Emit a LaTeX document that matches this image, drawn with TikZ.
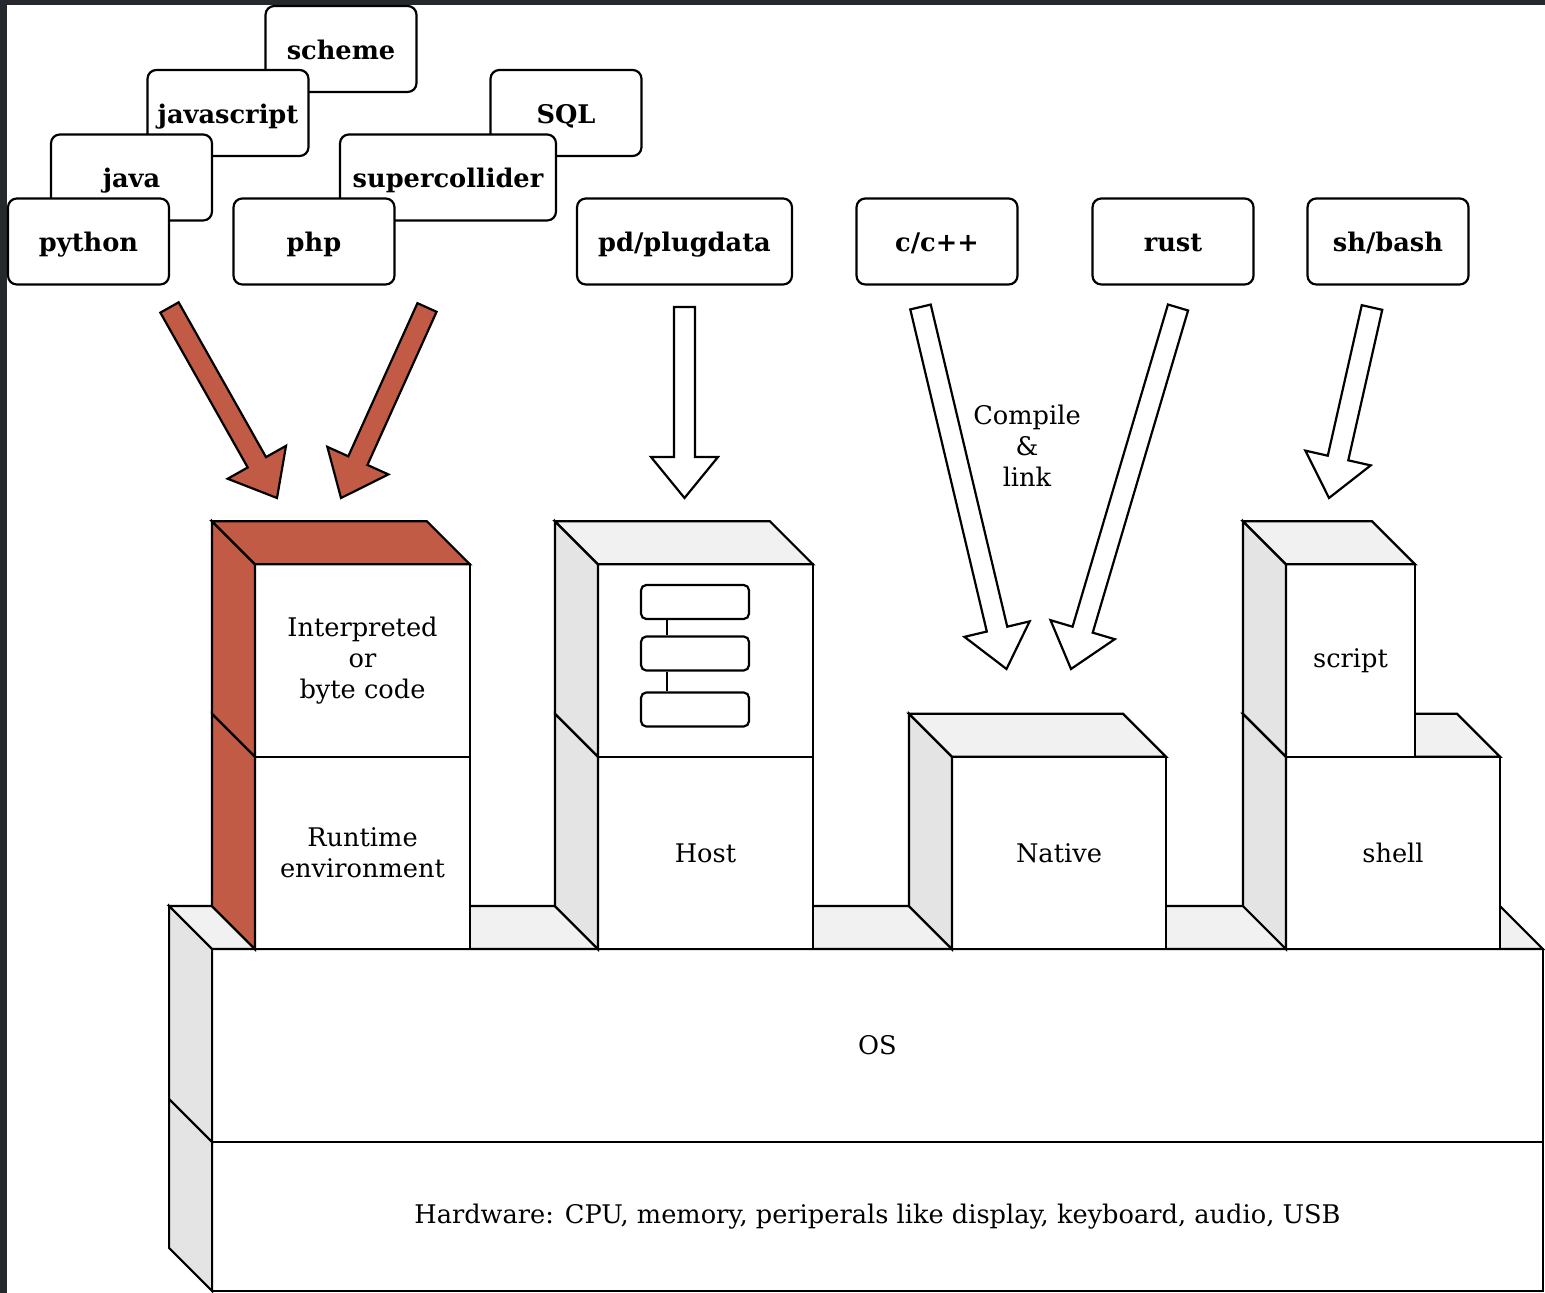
\documentclass[tikz,border=0pt]{standalone}
\usepackage{fontspec}
\setmainfont{DejaVu Serif}
\usetikzlibrary{%
	calc,%
	positioning%
}

\definecolor{brick}{HTML}{C25B45}
\definecolor{topgray}{HTML}{F1F1F1}
\definecolor{sidegray}{HTML}{E4E4E4}
\definecolor{frame}{HTML}{25282C}

\tikzset{
	lang/.style={draw, fill=white, rounded corners=5pt, minimum width=3.22cm, minimum height=1.72cm, text height=15.2pt, text depth=3.5pt, font=\bfseries\fontsize{14.6}{17.6}\selectfont},
	front/.style={draw, fill=white, outer sep=0pt, minimum width=4.3cm, minimum height=3.85cm, align=center, font=\fontsize{14.6}{17.6}\selectfont},
	block/.style={draw, fill=white, rounded corners=3pt, minimum width=2.16cm, minimum height=0.68cm}
}

% side and top faces of a box, drawn from its front node
\newcommand{\cubeside}[2]{%
	\draw[fill=#2] (#1.north west) -- ++(-43,-43) -- ($(#1.south west)+(-43,-43)$) -- (#1.south west) -- cycle;
}
\newcommand{\cubetop}[2]{%
	\draw[fill=#2] (#1.north west) -- ++(-43,-43) -- ($(#1.north east)+(-43,-43)$) -- (#1.north east) -- cycle;
}
% block arrow from tail #1 to tip #2
\newcommand{\fatarrow}[3]{%
	\coordinate (hb) at ($(#2)!0.82cm!(#1)$);
	\draw[fill=#3, line join=miter] ($(#1)!0.21cm!90:(#2)$) -- ($(hb)!0.21cm!90:(#2)$) -- ($(hb)!0.67cm!90:(#2)$) -- (#2) -- ($(hb)!0.67cm!-90:(#2)$) -- ($(hb)!0.21cm!-90:(#2)$) -- ($(#1)!0.21cm!-90:(#2)$) -- cycle;
}

\begin{document}
\begin{tikzpicture}[x=0.02cm, y=-0.02cm, line width=1.25pt]
	% Frame
	\fill[frame] (0,0) rectangle (1545,1293);
	\fill[white] (7,5) rectangle (1545,1293);
	\useasboundingbox (0,0) rectangle (1545,1293);

	% Languages
	\node[lang, minimum width=3.02cm] (scheme) at (341,49) {scheme};
	\node[lang] (javascript) at (228,113) {javascript};
	\node[lang] (java) at (131.5,177.5) {java};
	\node[lang] (python) at (88.5,241.5) {python};
	\node[lang, minimum width=3.02cm] (sql) at (566,113) {SQL};
	\node[lang, minimum width=4.32cm] (supercollider) at (448,177.5) {supercollider};
	\node[lang] (php) at (314,241.5) {php};
	\node[lang, minimum width=4.3cm] (pd) at (684.5,241.5) {pd/plugdata};
	\node[lang] (cpp) at (937,241.5) {c/c++};
	\node[lang] (rust) at (1173,241.5) {rust};
	\node[lang] (bash) at (1388,241.5) {sh/bash};

	% Base
	\node[front, minimum width=26.62cm, minimum height=2.98cm] (hw) at (877.5,1216.5) {Hardware: CPU, memory, periperals like display, keyboard, audio, USB};
	\node[front, minimum width=26.62cm, minimum height=3.86cm, above=0pt of hw] (os) {OS};
	\cubeside{hw}{sidegray}
	\cubeside{os}{sidegray}
	\cubetop{os}{topgray}

	% Interpreter tower
	\node[front] (runtime) at (362.5,853) {Runtime\\environment};
	\node[front, above=0pt of runtime] (interp) {Interpreted\\or\\byte code};
	\cubeside{runtime}{brick}
	\cubeside{interp}{brick}
	\cubetop{interp}{brick}

	% Host tower
	\node[front] (host) at (705.5,853) {Host};
	\node[front, above=0pt of host] (patch) {};
	\cubeside{host}{sidegray}
	\cubeside{patch}{sidegray}
	\cubetop{patch}{topgray}
	\node[block] (b1) at (695,602) {};
	\node[block] (b2) at (695,653.5) {};
	\node[block] (b3) at (695,709.5) {};
	\draw ($(b1.south west)+(27,0)$) -- ($(b2.north west)+(27,0)$);
	\draw ($(b2.south west)+(27,0)$) -- ($(b3.north west)+(27,0)$);

	% Native
	\node[front, minimum width=4.28cm] (native) at (1059,853) {Native};
	\cubeside{native}{sidegray}
	\cubetop{native}{topgray}

	% Shell tower
	\node[front, minimum width=4.28cm] (shell) at (1393,853) {shell};
	\cubeside{shell}{sidegray}
	\cubetop{shell}{topgray}
	\node[front, minimum width=2.58cm, anchor=south west] (script) at (shell.north west) {script};
	\cubeside{script}{sidegray}
	\cubetop{script}{topgray}

	% Arrows
	\coordinate (pyTail) at (169.5,307.5);
	\coordinate (pyTip) at (277,498);
	\coordinate (phpTail) at (427,307.5);
	\coordinate (phpTip) at (341,498);
	\coordinate (pdTail) at (684.5,307);
	\coordinate (pdTip) at (684.5,498);
	\coordinate (cppTail) at (920.5,307);
	\coordinate (cppTip) at (1006.5,669);
	\coordinate (rustTail) at (1178,307.5);
	\coordinate (rustTip) at (1071,669);
	\coordinate (bashTail) at (1372,307.5);
	\coordinate (bashTip) at (1329,498);

	\fatarrow{pyTail}{pyTip}{brick}
	\fatarrow{phpTail}{phpTip}{brick}
	\fatarrow{pdTail}{pdTip}{white}
	\fatarrow{cppTail}{cppTip}{white}
	\fatarrow{rustTail}{rustTip}{white}
	\fatarrow{bashTail}{bashTip}{white}

	\node[align=center, font=\fontsize{14.6}{17.6}\selectfont] (compile) at (1027,446) {Compile\\\&\\link};
\end{tikzpicture}
\end{document}
